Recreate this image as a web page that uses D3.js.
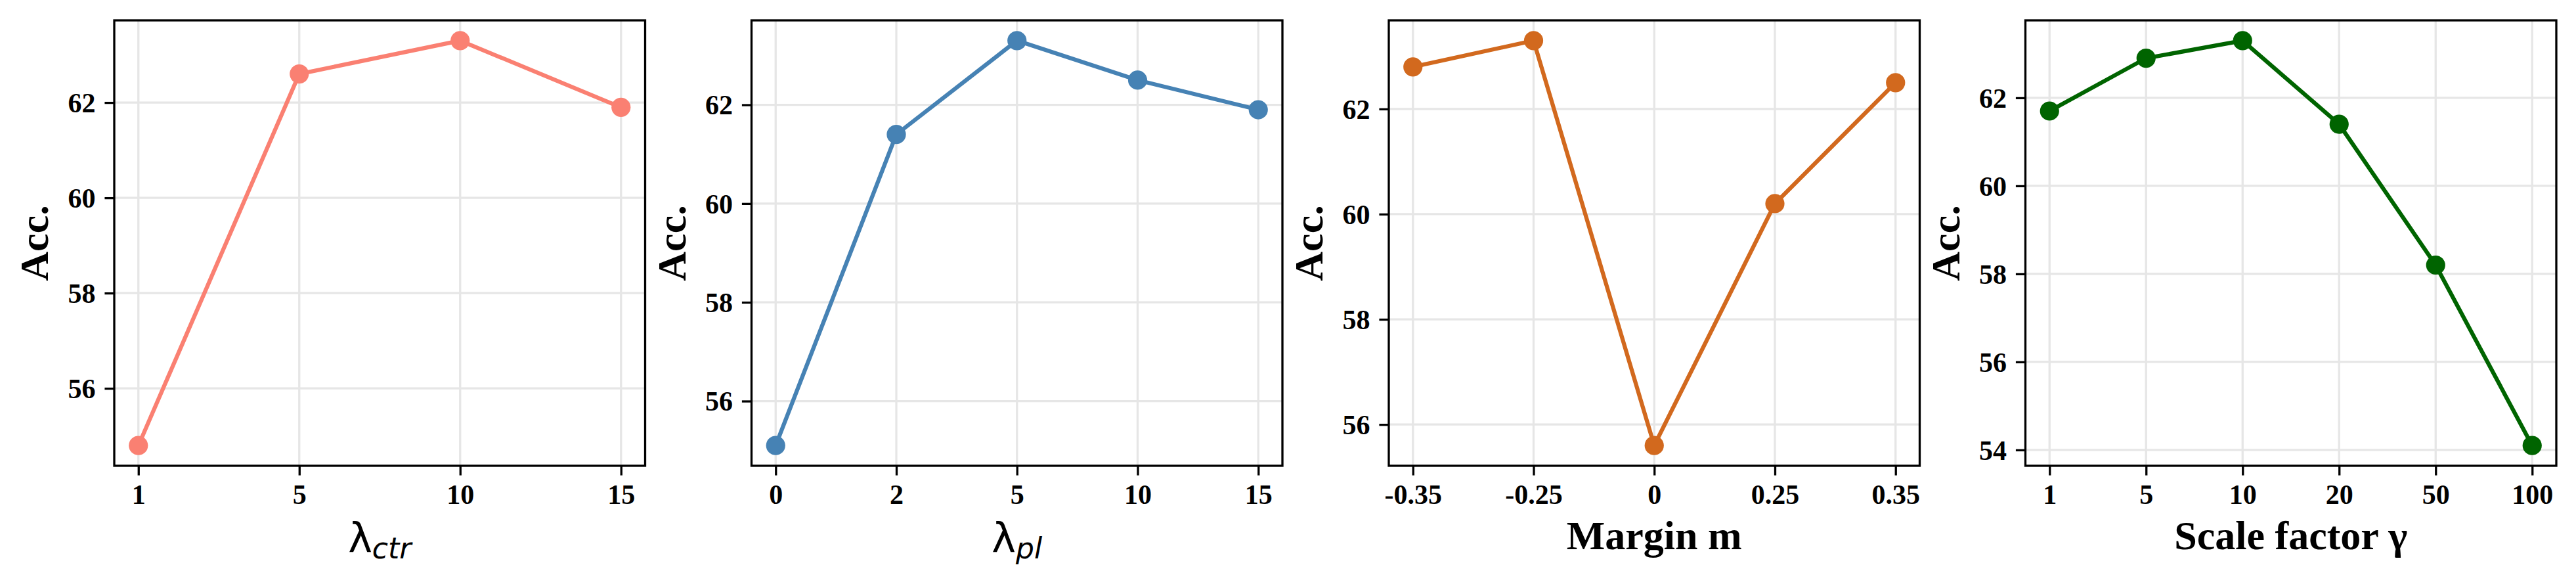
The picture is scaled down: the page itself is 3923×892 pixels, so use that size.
<!DOCTYPE html>
<html>
<head>
<meta charset="utf-8">
<script src="https://cdn.jsdelivr.net/npm/d3@7"></script>
<style>
  html, body { margin: 0; padding: 0; background: #ffffff; }
  svg { display: block; }
</style>
</head>
<body>
<script>
// ---------------- DATA ----------------
const ctrCategories   = ["1", "5", "10", "15"];
const ctrValues       = [54.8, 62.6, 63.3, 61.9];
const ctrYTicks       = [56, 58, 60, 62];

const plCategories    = ["0", "2", "5", "10", "15"];
const plValues        = [55.1, 61.4, 63.3, 62.5, 61.9];
const plYTicks        = [56, 58, 60, 62];

const marginCategories = ["-0.35", "-0.25", "0", "0.25", "0.35"];
const marginValues     = [62.8, 63.3, 55.6, 60.2, 62.5];
const marginYTicks     = [56, 58, 60, 62];

const scaleCategories = ["1", "5", "10", "20", "50", "100"];
const scaleValues     = [61.7, 62.9, 63.3, 61.4, 58.2, 54.1];
const scaleYTicks     = [54, 56, 58, 60, 62];

const yLabel = "Acc.";

// panel definitions built from the arrays above
const panels = [
  { cats: ctrCategories,    vals: ctrValues,    yTicks: ctrYTicks,    color: "#FA8072", xlabel: { math: true, main: "λ", sub: "ctr" } },
  { cats: plCategories,     vals: plValues,     yTicks: plYTicks,     color: "#4682B4", xlabel: { math: true, main: "λ", sub: "pl" } },
  { cats: marginCategories, vals: marginValues, yTicks: marginYTicks, color: "#D2691E", xlabel: { math: false, text: "Margin m" } },
  { cats: scaleCategories,  vals: scaleValues,  yTicks: scaleYTicks,  color: "#006400", xlabel: { math: false, text: "Scale factor γ" } }
];

// ---------------- LAYOUT ----------------
const W = 3923, H = 892;
const plotTop = 31, plotBottom = 709;
const panelLefts = [174, 1144.5, 2115, 3084.5];
const panelWidth = 808.5;

const serif = "'Liberation Serif', 'Times New Roman', serif";
const sans = "'DejaVu Sans', sans-serif";

const svg = d3.select("body").append("svg")
  .attr("width", W).attr("height", H)
  .attr("viewBox", `0 0 ${W} ${H}`);

svg.append("rect").attr("width", W).attr("height", H).attr("fill", "#ffffff");

panels.forEach((p, i) => {
  const left = panelLefts[i], right = left + panelWidth;
  const n = p.cats.length;
  const x = d3.scaleLinear()
    .domain([-0.05 * (n - 1), (n - 1) * 1.05])
    .range([left, right]);
  const vmin = d3.min(p.vals), vmax = d3.max(p.vals);
  const pad = (vmax - vmin) * 0.05;
  const y = d3.scaleLinear()
    .domain([vmin - pad, vmax + pad])
    .range([plotBottom, plotTop]);

  const g = svg.append("g");

  // grid
  g.append("g").selectAll("line").data(d3.range(n)).join("line")
    .attr("x1", d => x(d)).attr("x2", d => x(d))
    .attr("y1", plotTop).attr("y2", plotBottom)
    .attr("stroke", "#e6e6e6").attr("stroke-width", 3.3);
  g.append("g").selectAll("line").data(p.yTicks).join("line")
    .attr("x1", left).attr("x2", right)
    .attr("y1", d => y(d)).attr("y2", d => y(d))
    .attr("stroke", "#e6e6e6").attr("stroke-width", 3.3);

  // x axis
  const xAxis = d3.axisBottom(x)
    .tickValues(d3.range(n))
    .tickFormat(d => p.cats[d])
    .tickSizeInner(14.6).tickSizeOuter(0).tickPadding(14);
  const gx = g.append("g").attr("transform", `translate(0,${plotBottom})`).call(xAxis);
  gx.select(".domain").remove();
  gx.selectAll(".tick line").attr("stroke", "#000").attr("stroke-width", 3.3);
  gx.selectAll(".tick text")
    .attr("fill", "#000")
    .attr("font-family", serif).attr("font-weight", "bold").attr("font-size", 42)
    .attr("y", 58).attr("dy", 0);

  // y axis
  const yAxis = d3.axisLeft(y)
    .tickValues(p.yTicks)
    .tickFormat(d3.format("d"))
    .tickSizeInner(14.6).tickSizeOuter(0).tickPadding(14);
  const gy = g.append("g").attr("transform", `translate(${left},0)`).call(yAxis);
  gy.select(".domain").remove();
  gy.selectAll(".tick line").attr("stroke", "#000").attr("stroke-width", 3.3);
  gy.selectAll(".tick text")
    .attr("fill", "#000")
    .attr("font-family", serif).attr("font-weight", "bold").attr("font-size", 42)
    .attr("dy", "0.34em");

  // line + markers
  const line = d3.line().x((d, j) => x(j)).y(d => y(d));
  g.append("path").datum(p.vals)
    .attr("d", line)
    .attr("fill", "none")
    .attr("stroke", p.color).attr("stroke-width", 6.25)
    .attr("stroke-linejoin", "round").attr("stroke-linecap", "square");
  g.append("g").selectAll("circle").data(p.vals).join("circle")
    .attr("cx", (d, j) => x(j)).attr("cy", d => y(d))
    .attr("r", 14.6).attr("fill", p.color);

  // frame
  g.append("rect")
    .attr("x", left).attr("y", plotTop)
    .attr("width", panelWidth).attr("height", plotBottom - plotTop)
    .attr("fill", "none").attr("stroke", "#000").attr("stroke-width", 3.3);

  // y label
  g.append("text")
    .attr("transform", `translate(${left - 101},${(plotTop + plotBottom) / 2}) rotate(-90)`)
    .attr("text-anchor", "middle")
    .attr("font-family", serif).attr("font-weight", "bold").attr("font-size", 62)
    .attr("fill", "#000")
    .text(yLabel);

  // x label
  const cx = (left + right) / 2;
  if (p.xlabel.math) {
    const t = g.append("text")
      .attr("x", cx).attr("y", 840)
      .attr("text-anchor", "middle")
      .attr("font-family", sans).attr("fill", "#000");
    t.append("tspan").attr("font-size", 62).text(p.xlabel.main);
    t.append("tspan").attr("font-size", 44).attr("font-style", "italic")
      .attr("dy", 10).text(p.xlabel.sub);
  } else {
    g.append("text")
      .attr("x", cx).attr("y", 836)
      .attr("text-anchor", "middle")
      .attr("font-family", serif).attr("font-weight", "bold").attr("font-size", 62)
      .attr("fill", "#000")
      .text(p.xlabel.text);
  }
});
</script>
</body>
</html>
